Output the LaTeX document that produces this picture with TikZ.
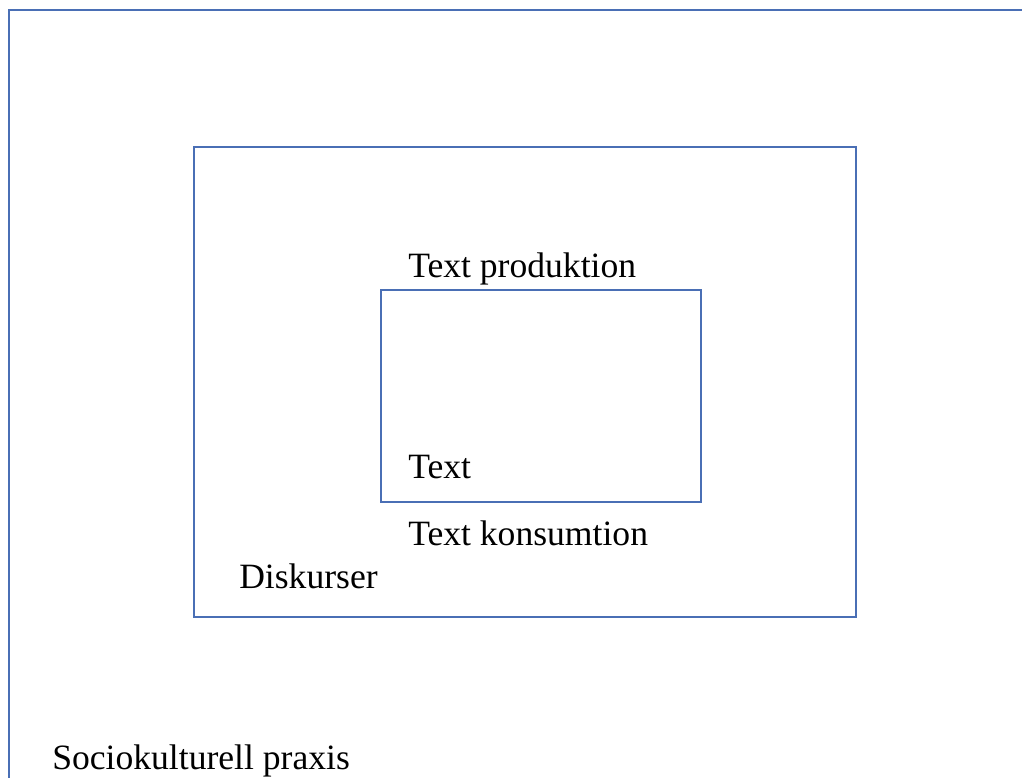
\documentclass[tikz,border=0pt]{standalone}
\usepackage{fontspec}
\setmainfont{Liberation Serif}
\usetikzlibrary{positioning}

\definecolor{boxblue}{HTML}{4A6FB5}

\begin{document}
\begin{tikzpicture}[x=0.75pt, y=-0.75pt,
    box/.style = {draw=boxblue, line width=1pt, inner sep=0pt, outer sep=0pt},
    lbl/.style = {anchor=base west, inner sep=0pt, font=\fontsize{26.7}{32}\selectfont}]
        \useasboundingbox (0,0) rectangle (1022,778);
        \clip (0,0) rectangle (1022,778);

        % boxes
        \node[box, minimum width=773.25pt, minimum height=592.5pt] (praxis) at (524.5,405) {};
        \node[box, minimum width=496.5pt, minimum height=352.5pt] (diskurs) at (525,382) {};
        \node[box, minimum width=240pt, minimum height=159pt] (text) at (541,396) {};

        % labels
        \node[lbl] (prod) at (408,277) {Text produktion};
        \node[lbl] (txt) at (408,478) {Text};
        \node[lbl] (kons) at (408,545) {Text konsumtion};
        \node[lbl] (disk) at (239,588) {Diskurser};
        \node[lbl] (socio) at (52,769) {Sociokulturell praxis};
\end{tikzpicture}
\end{document}
